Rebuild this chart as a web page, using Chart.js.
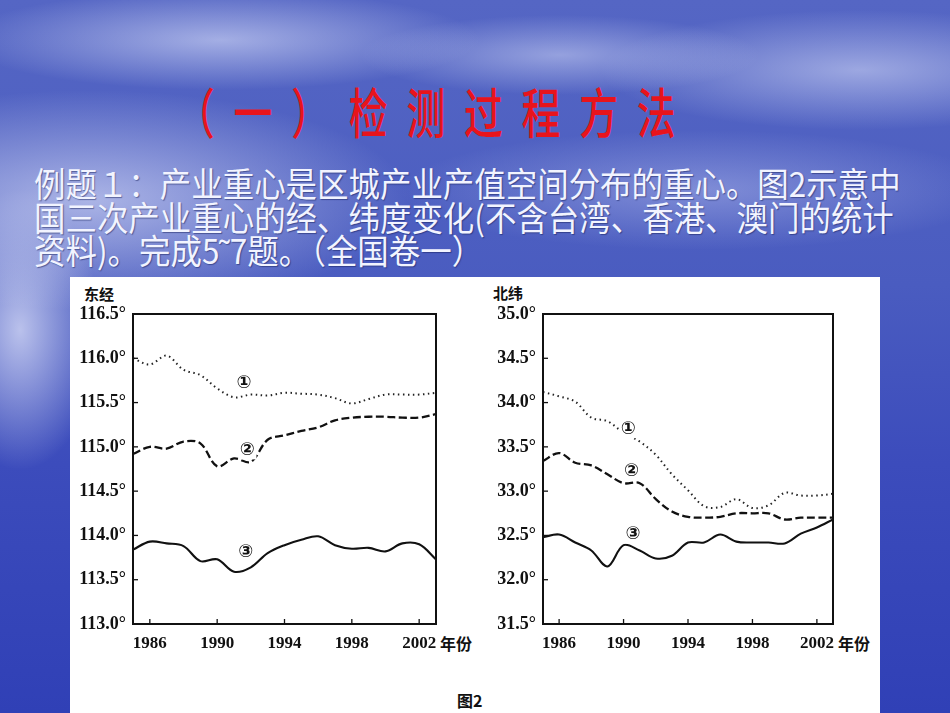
<!DOCTYPE html>
<html>
<head>
<meta charset="utf-8">
<script src="https://cdn.jsdelivr.net/npm/chart.js@4/dist/chart.umd.min.js"></script>
<style>
  html,body{margin:0;padding:0;}
  body{width:950px;height:713px;position:relative;overflow:hidden;
    background:
      radial-gradient(ellipse 260px 50px at 220px 40px, rgba(230,235,255,0.55), rgba(230,235,255,0) 100%),
      radial-gradient(ellipse 200px 40px at 560px 55px, rgba(230,235,255,0.45), rgba(230,235,255,0) 100%),
      radial-gradient(ellipse 260px 60px at 860px 70px, rgba(230,235,255,0.5), rgba(230,235,255,0) 100%),
      radial-gradient(ellipse 320px 110px at 90px 200px, rgba(235,238,255,0.6), rgba(235,238,255,0) 100%),
      radial-gradient(ellipse 80px 140px at 20px 330px, rgba(235,238,255,0.7), rgba(235,238,255,0) 100%),
      radial-gradient(ellipse 300px 60px at 700px 190px, rgba(220,225,255,0.35), rgba(220,225,255,0) 100%),
      linear-gradient(180deg, #5566c4 0%, #4a5cc0 40%, #3c4cbc 65%, #3040b6 100%);
    font-family:"Noto Sans CJK SC", sans-serif;}
  #title{position:absolute;left:176px;top:78px;color:#e8141c;font-size:54px;line-height:66px;
    letter-spacing:26px;transform:scaleX(0.72);transform-origin:left top;white-space:nowrap;
    font-family:"Noto Sans CJK SC",sans-serif;font-weight:500;}
  #para{position:absolute;left:34px;top:166px;color:#f2f4ff;font-size:34px;line-height:33.5px;
    white-space:nowrap;text-shadow:1px 1px 1px rgba(20,30,90,0.5);}
  #para div{transform:scaleX(0.925);transform-origin:left top;height:33.5px;}
  #panel{position:absolute;left:70px;top:277px;width:810px;height:436px;background:#fff;}
  .lab{position:absolute;color:#111;font-family:"Noto Sans CJK SC",sans-serif;font-size:15px;font-weight:700;white-space:nowrap;}
  canvas{position:absolute;}
</style>
</head>
<body>
<div id="title">（一）检测过程方法</div>
<div id="para">
  <div>例题１：产业重心是区城产业产值空间分布的重心。图2示意中</div>
  <div>国三次产业重心的经、纬度变化(不含台湾、香港、澳门的统计</div>
  <div>资料)。完成5˜7题。（全国卷一）</div>
</div>
<div id="panel"></div>
<div class="lab" style="left:84px;top:283px;">东经</div>
<div class="lab" style="left:493px;top:282px;">北纬</div>
<div class="lab" style="left:440px;top:631px;font-size:16px;">年份</div>
<div class="lab" style="left:838px;top:631px;font-size:16px;">年份</div>
<div class="lab" style="left:457px;top:688px;font-size:16px;">图2</div>
<div style="position:absolute;left:70px;top:280px;width:380px;height:380px;"><canvas id="c1"></canvas></div>
<div style="position:absolute;left:480px;top:280px;width:380px;height:380px;"><canvas id="c2"></canvas></div>
<script>
const years = [1985,1986,1987,1988,1989,1990,1991,1992,1993,1994,1995,1996,1997,1998,1999,2000,2001,2002,2003];
const xTicks = [1986,1990,1994,1998,2002];

// Longitude (东经)
const lon1 = [116.00,115.93,116.03,115.87,115.81,115.66,115.56,115.59,115.58,115.61,115.60,115.59,115.55,115.49,115.54,115.59,115.59,115.59,115.61];
const lon2 = [114.92,115.00,114.98,115.06,115.04,114.78,114.87,114.83,115.08,115.13,115.18,115.22,115.30,115.33,115.34,115.34,115.33,115.33,115.37];
const lon3 = [113.84,113.93,113.91,113.88,113.71,113.73,113.59,113.64,113.80,113.89,113.95,113.99,113.89,113.85,113.86,113.82,113.91,113.90,113.73];
const lonTicks = [113.0,113.5,114.0,114.5,115.0,115.5,116.0,116.5];

// Latitude (北纬)
const lat1 = [34.12,34.07,34.01,33.83,33.79,33.66,33.56,33.41,33.19,33.01,32.83,32.82,32.91,32.81,32.84,32.98,32.95,32.95,32.97];
const lat2 = [33.34,33.43,33.32,33.29,33.19,33.09,33.09,32.91,32.77,32.71,32.70,32.71,32.75,32.75,32.75,32.68,32.70,32.70,32.70];
const lat3 = [32.48,32.51,32.42,32.33,32.15,32.39,32.33,32.24,32.27,32.42,32.42,32.51,32.43,32.42,32.42,32.41,32.52,32.59,32.68];
const latTicks = [31.5,32.0,32.5,33.0,33.5,34.0,34.5,35.0];

const seriesNames = ['①','②','③'];
const lonMarks = [[1991.6,115.72],[1991.8,114.96],[1991.7,113.81]];
const latMarks = [[1990.3,33.70],[1990.5,33.22],[1990.6,32.51]];

function pts(arr){ return years.map((y,i)=>({x:y,y:arr[i]})); }

const framePlugin = {
  id:'frame',
  afterDatasetsDraw(chart, args, opts){
    const {ctx, chartArea:a, scales:{x,y}} = chart;
    ctx.save();
    ctx.strokeStyle='#111';
    ctx.lineWidth=2;
    ctx.strokeRect(a.left,a.top,a.right-a.left,a.bottom-a.top);
    ctx.lineWidth=1.3;
    opts.yt.forEach(v=>{ const py=y.getPixelForValue(v); ctx.beginPath(); ctx.moveTo(a.left,py); ctx.lineTo(a.left+5,py); ctx.stroke(); });
    opts.xt.forEach(v=>{ const px=x.getPixelForValue(v); ctx.beginPath(); ctx.moveTo(px,a.bottom); ctx.lineTo(px,a.bottom-5); ctx.stroke(); });
    ctx.font='bold 18px "DejaVu Sans", sans-serif';
    ctx.textAlign='center'; ctx.textBaseline='middle';
    opts.marks.forEach((m,i)=>{
      const px=x.getPixelForValue(m[0]), py=y.getPixelForValue(m[1]);
      ctx.fillStyle='#fff'; ctx.fillRect(px-9,py-9,18,18);
      ctx.fillStyle='#111';
      ctx.fillText(seriesNames[i],px,py);
    });
    ctx.restore();
  }
};

function makeChart(id, d1, d2, d3, yt, marks, padRight){
  const tickFont = {family:'"Liberation Serif", serif', size:18, weight:'bold'};
  return new Chart(document.getElementById(id), {
    type:'line',
    data:{datasets:[
      {data:pts(d1), borderColor:'#222', borderWidth:2, borderDash:[1.5,3.5], pointRadius:0, tension:0.35, fill:false},
      {data:pts(d2), borderColor:'#111', borderWidth:2.3, borderDash:[8,3.5], pointRadius:0, tension:0.35, fill:false},
      {data:pts(d3), borderColor:'#111', borderWidth:2.1, pointRadius:0, tension:0.35, fill:false}
    ]},
    options:{
      responsive:true, maintainAspectRatio:false, animation:false,
      layout:{padding:{top:34,right:padRight,left:0,bottom:0}},
      plugins:{legend:{display:false}, tooltip:{enabled:false},
        frame:{yt:yt, xt:xTicks, marks:marks}},
      scales:{
        x:{type:'linear', min:1985, max:2003,
          afterBuildTicks(s){ s.ticks = xTicks.map(v=>({value:v})); },
          afterFit(s){ s.height = 36; },
          grid:{display:false, drawTicks:false}, border:{display:false},
          ticks:{color:'#111', font:{family:'"Liberation Serif", serif', size:17, weight:'bold'}, padding:9, maxRotation:0, autoSkip:false, callback:v=>String(v)}},
        y:{type:'linear', min:yt[0], max:yt[yt.length-1],
          afterBuildTicks(s){ s.ticks = yt.map(v=>({value:v})); },
          afterFit(s){ s.width = 63; },
          grid:{display:false, drawTicks:false}, border:{display:false},
          ticks:{color:'#111', font:tickFont, padding:7, autoSkip:false, callback:v=>v.toFixed(1)+'°'}}
      }
    },
    plugins:[framePlugin]
  });
}
makeChart('c1', lon1, lon2, lon3, lonTicks, lonMarks, 14);
makeChart('c2', lat1, lat2, lat3, latTicks, latMarks, 27);
</script>
</body>
</html>
